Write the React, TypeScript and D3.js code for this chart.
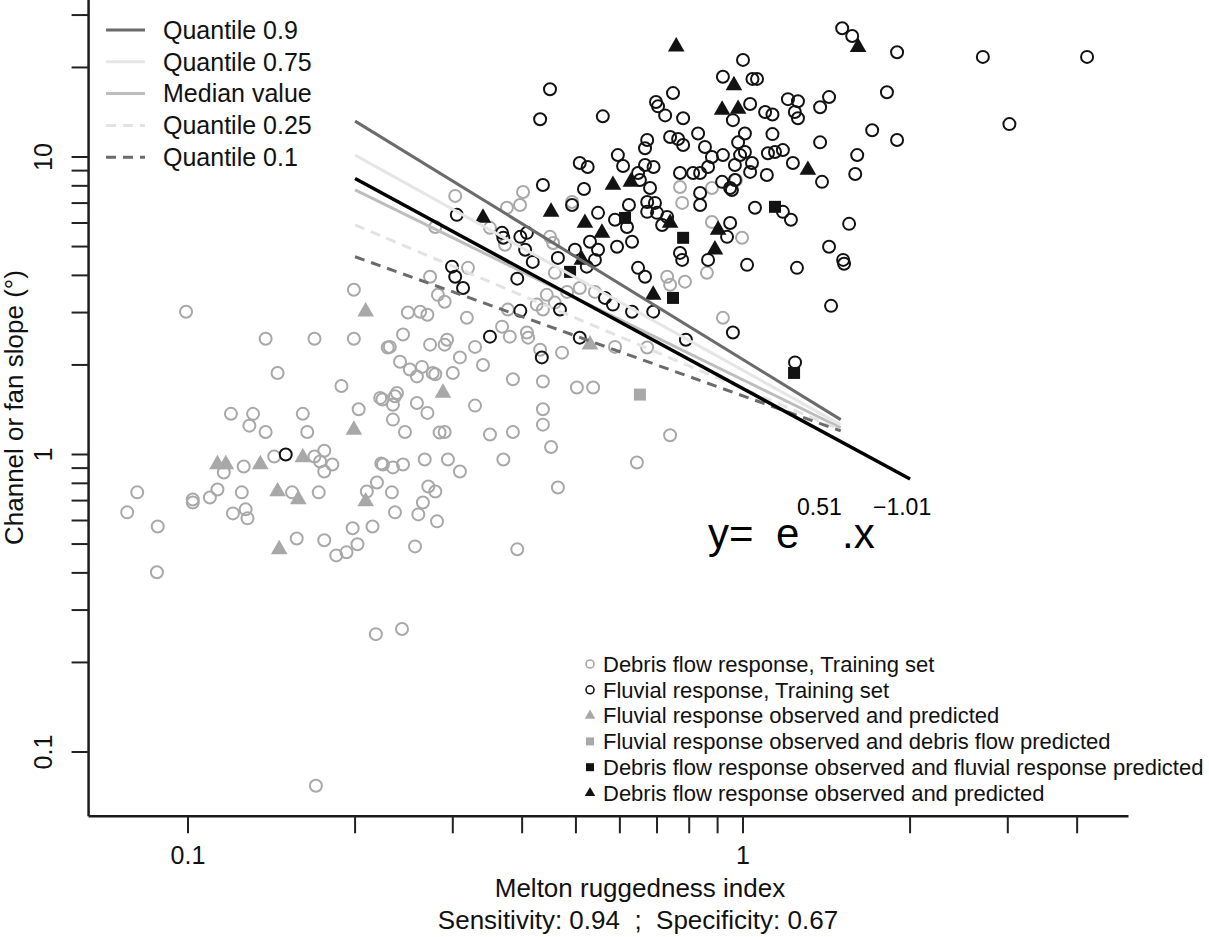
import React from "react";
import * as d3 from "d3";

const W = 1209;
const H = 937;

// Melton ruggedness index (x) and channel / fan slope in degrees (y)
const debrisTraining: [number, number][] = [
  [0.303, 7.4], [0.4015, 7.63], [0.3965, 6.9], [0.3755, 6.75], [0.492, 7.06], [0.77, 7.93], [0.777, 7.01],
  [0.879, 7.87], [0.971, 8.37], [0.879, 6.05], [0.996, 5.35], [0.861, 4.08], [0.73, 3.96], [0.739, 3.72],
  [0.786, 3.81], [0.92, 2.88], [0.279, 5.82], [0.35, 5.78], [0.3725, 5.07], [0.449, 5.39], [0.455, 5.14],
  [0.3195, 4.24], [0.273, 3.96], [0.282, 3.44], [0.29, 3.26], [0.458, 4.08], [0.508, 3.63], [0.541, 3.52],
  [0.482, 3.52], [0.443, 3.44], [0.458, 3.24], [0.425, 3.19], [0.436, 3.07], [0.377, 3.07], [0.249, 3.0],
  [0.262, 3.02], [0.27, 2.95], [0.318, 2.88], [0.244, 2.53], [0.368, 2.69], [0.38, 2.49], [0.408, 2.57],
  [0.41, 2.47], [0.293, 2.43], [0.29, 2.34], [0.273, 2.34], [0.231, 2.3], [0.329, 2.3], [0.431, 2.25],
  [0.472, 2.2], [0.588, 2.3], [0.672, 2.29], [0.241, 2.05], [0.251, 1.93], [0.264, 1.97], [0.276, 1.88],
  [0.309, 2.12], [0.34, 2.0], [0.3, 1.88], [0.2585, 1.83], [0.279, 1.86], [0.385, 1.79], [0.436, 1.76],
  [0.502, 1.68], [0.537, 1.68], [0.224, 1.53], [0.236, 1.57], [0.234, 1.47], [0.2585, 1.49], [0.27, 1.38],
  [0.234, 1.31], [0.246, 1.19], [0.329, 1.46], [0.284, 1.185], [0.29, 1.19], [0.35, 1.167], [0.385, 1.19],
  [0.436, 1.42], [0.436, 1.26], [0.451, 1.06], [0.739, 1.16], [0.644, 0.94], [0.2245, 0.926], [0.234, 0.905],
  [0.244, 0.926], [0.267, 0.962], [0.294, 0.962], [0.309, 0.877], [0.37, 0.962], [0.233, 0.746], [0.271, 0.781],
  [0.279, 0.751], [0.265, 0.69], [0.236, 0.639], [0.26, 0.629], [0.281, 0.596], [0.464, 0.775], [0.2565, 0.491],
  [0.392, 0.48], [0.0992, 3.02], [0.199, 3.58], [0.138, 2.45], [0.169, 2.45], [0.199, 2.45], [0.145, 1.88],
  [0.189, 1.7], [0.229, 2.29], [0.238, 1.61], [0.1195, 1.37], [0.131, 1.37], [0.129, 1.25], [0.138, 1.19],
  [0.161, 1.37], [0.164, 1.19], [0.203, 1.42], [0.222, 1.55], [0.176, 1.03], [0.143, 0.985], [0.169, 0.985],
  [0.173, 0.947], [0.182, 0.926], [0.176, 0.877], [0.126, 0.911], [0.116, 0.87], [0.081, 0.746], [0.0777, 0.639],
  [0.0882, 0.573], [0.102, 0.706], [0.102, 0.69], [0.1095, 0.717], [0.113, 0.763], [0.125, 0.746], [0.1205, 0.634],
  [0.127, 0.654], [0.128, 0.61], [0.154, 0.746], [0.172, 0.746], [0.223, 0.933], [0.21, 0.751], [0.219, 0.805],
  [0.198, 0.565], [0.215, 0.573], [0.157, 0.522], [0.176, 0.515], [0.185, 0.458], [0.193, 0.469], [0.202, 0.499],
  [0.0879, 0.402], [0.218, 0.249], [0.243, 0.259], [0.17, 0.077],
];

const fluvialTraining: [number, number][] = [
  [1.0, 21.2], [0.92, 18.6], [1.04, 18.3], [1.06, 18.3], [0.449, 16.9], [0.748, 16.4], [0.431, 13.4],
  [0.559, 13.7], [0.697, 15.3], [0.703, 14.8], [0.724, 13.8], [0.78, 13.5], [1.03, 15.07], [1.096, 14.16],
  [1.13, 13.9], [1.205, 15.65], [1.24, 14.16], [0.959, 13.3], [0.83, 12.0], [1.008, 12.0], [0.98, 11.2],
  [1.13, 11.94], [0.739, 11.67], [0.764, 11.49], [0.78, 10.97], [0.854, 10.8], [0.672, 11.4], [0.666, 10.7],
  [0.595, 10.15], [0.608, 9.33], [0.508, 9.55], [0.525, 9.25], [0.666, 9.4], [0.69, 9.25], [0.92, 10.15],
  [0.988, 10.15], [1.008, 10.4], [0.879, 10.0], [0.865, 9.25], [1.109, 10.3], [1.142, 10.4], [1.18, 10.55],
  [1.23, 9.55], [0.967, 9.4], [1.038, 9.55], [1.03, 8.91], [1.104, 8.7], [0.77, 8.84], [0.813, 8.84],
  [0.837, 8.84], [0.68, 7.87], [0.647, 8.84], [0.652, 8.37], [0.436, 8.05], [0.517, 7.81], [0.837, 7.57],
  [0.917, 8.25], [0.955, 7.75], [0.967, 8.37], [1.509, 27.1], [1.573, 25.5], [1.895, 22.5], [2.705, 21.7],
  [4.168, 21.7], [1.817, 16.5], [1.429, 15.9], [1.256, 15.4], [1.377, 14.7], [1.256, 13.5], [1.709, 12.3],
  [1.377, 11.2], [1.895, 11.4], [3.02, 12.9], [1.606, 10.15], [1.593, 8.77], [1.388, 8.25], [1.18, 6.54],
  [1.22, 6.15], [1.553, 5.96], [1.429, 4.99], [1.515, 4.51], [1.521, 4.375], [1.251, 4.24], [1.441, 3.16],
  [1.241, 2.04], [0.837, 6.9], [0.948, 7.87], [0.623, 6.9], [0.672, 7.06], [0.694, 7.01], [0.672, 6.54],
  [0.7, 6.49], [0.73, 6.29], [0.715, 5.91], [0.548, 6.49], [0.492, 6.9], [0.588, 6.15], [0.618, 5.82],
  [1.051, 6.75], [0.948, 6.0], [0.936, 5.39], [0.305, 6.39], [0.368, 5.56], [0.37, 5.35], [0.397, 5.39],
  [0.408, 5.56], [0.405, 4.88], [0.418, 4.44], [0.464, 4.58], [0.498, 4.88], [0.53, 5.19], [0.548, 4.88],
  [0.541, 4.51], [0.593, 4.99], [0.631, 5.19], [0.523, 4.28], [0.77, 4.76], [0.777, 4.51], [0.865, 4.51],
  [1.017, 4.34], [0.647, 4.24], [0.666, 3.96], [0.299, 4.28], [0.303, 3.96], [0.313, 3.63], [0.392, 3.9],
  [0.564, 3.36], [0.583, 3.19], [0.468, 3.07], [0.397, 3.04], [0.631, 3.02], [0.689, 3.02], [0.35, 2.49],
  [0.508, 2.47], [0.434, 2.12], [0.789, 2.43], [0.959, 2.57], [0.15, 1.0],
];

const fluvialObsPred: [number, number][] = [
  [0.113, 0.926], [0.117, 0.926], [0.135, 0.926], [0.161, 0.977], [0.145, 0.751], [0.158, 0.706],
  [0.146, 0.48], [0.199, 1.21], [0.209, 3.02], [0.209, 0.695], [0.288, 1.61], [0.53, 2.34],
];

const fluvialObsDebrisPred: [number, number][] = [[0.652, 1.59]];

const debrisObsFluvialPred: [number, number][] = [
  [0.613, 6.24], [0.78, 5.35], [0.488, 4.11], [0.748, 3.36], [1.142, 6.8], [1.236, 1.88],
];

const debrisObsPred: [number, number][] = [
  [0.758, 23.5], [1.612, 23.4], [0.963, 17.4], [0.917, 14.4], [0.98, 14.5], [1.309, 9.04], [0.583, 8.05],
  [0.628, 8.25], [0.34, 6.24], [0.451, 6.54], [0.519, 6.0], [0.557, 5.56], [0.5125, 4.51], [0.739, 6.0],
  [0.902, 5.69], [0.89, 4.88], [0.689, 3.44],
];

// quantile regression lines: slope at x0 and x1
const quantileNames = ["Quantile 0.9", "Quantile 0.75", "Median value", "Quantile 0.25", "Quantile 0.1"];
const quantileX = [0.2, 1.5];
const quantileY0 = [13.2, 10.15, 7.75, 5.91, 4.62];
const quantileY1 = [1.31, 1.26, 1.23, 1.21, 1.2];
const quantileColors = ["#6b6b6b", "#e6e6e6", "#bdbdbd", "#e3e3e3", "#6b6b6b"];
const quantileDash = [null, null, null, "10,7", "10,7"];

// fitted model y = e^a . x^b
const fitA = 0.51;
const fitB = -1.01;
const fitX = [0.2, 2.0];

const xLim = [0.0662, 4.95];
const yLim = [0.0608, 34];
const xMajor = [0.1, 1];
const xMinor = [0.2, 0.3, 0.4, 0.5, 0.6, 0.7, 0.8, 0.9, 2, 3, 4];
const yMajor = [0.1, 1, 10];
const yMinor = [0.2, 0.3, 0.4, 0.5, 0.6, 0.7, 0.8, 0.9, 2, 3, 4, 5, 6, 7, 8, 9, 20, 30];

const pointLegend = [
  "Debris flow response, Training set",
  "Fluvial response, Training set",
  "Fluvial response observed and predicted",
  "Fluvial response observed and debris flow predicted",
  "Debris flow response observed and fluvial response predicted",
  "Debris flow response observed and predicted",
];

const GREY = "#a8a8a8";
const BLACK = "#121212";
const FONT = "'Liberation Sans', Arial, Helvetica, sans-serif";

export default function App() {
  const x = d3.scaleLog().domain([0.1, 1]).range([188, 743]);
  const y = d3.scaleLog().domain([0.1, 10]).range([752, 157]);

  const tri = d3.symbol(d3.symbolTriangle, 120)() as string;
  const sq = d3.symbol(d3.symbolSquare, 144)() as string;
  const triSmall = d3.symbol(d3.symbolTriangle, 48)() as string;
  const sqSmall = d3.symbol(d3.symbolSquare, 64)() as string;

  const left = x(xLim[0]);
  const right = x(xLim[1]);
  const bottom = y(yLim[0]);
  const top = y(yLim[1]);

  const fitY = (v: number) => Math.exp(fitA) * Math.pow(v, fitB);

  const legX = 590;
  const legY0 = 664;
  const legStep = 25.8;

  return (
    <svg width={W} height={H} style={{ position: "absolute", left: 0, top: 0, background: "#fff" }} fontFamily={FONT}>
      {/* points */}
      <g fill="none" stroke={GREY} strokeWidth={2}>
        {debrisTraining.map((d, i) => (
          <circle key={i} cx={x(d[0])} cy={y(d[1])} r={6} />
        ))}
      </g>
      <g fill="none" stroke={BLACK} strokeWidth={2}>
        {fluvialTraining.map((d, i) => (
          <circle key={i} cx={x(d[0])} cy={y(d[1])} r={6} />
        ))}
      </g>
      {fluvialObsPred.map((d, i) => (
        <path key={"fo" + i} d={tri} transform={`translate(${x(d[0])},${y(d[1])})`} fill={GREY} />
      ))}
      {fluvialObsDebrisPred.map((d, i) => (
        <path key={"fd" + i} d={sq} transform={`translate(${x(d[0])},${y(d[1])})`} fill={GREY} />
      ))}
      {debrisObsFluvialPred.map((d, i) => (
        <path key={"df" + i} d={sq} transform={`translate(${x(d[0])},${y(d[1])})`} fill={BLACK} />
      ))}
      {debrisObsPred.map((d, i) => (
        <path key={"dd" + i} d={tri} transform={`translate(${x(d[0])},${y(d[1])})`} fill={BLACK} />
      ))}

      {/* quantile lines */}
      {quantileNames.map((n, i) => (
        <line
          key={n}
          x1={x(quantileX[0])}
          y1={y(quantileY0[i])}
          x2={x(quantileX[1])}
          y2={y(quantileY1[i])}
          stroke={quantileColors[i]}
          strokeWidth={3}
          strokeDasharray={quantileDash[i] ?? undefined}
        />
      ))}
      <line x1={x(fitX[0])} y1={y(fitY(fitX[0]))} x2={x(fitX[1])} y2={y(fitY(fitX[1]))} stroke="#000" strokeWidth={3.5} />

      {/* axes */}
      <g stroke="#1a1a1a" strokeWidth={2.5}>
        <line x1={left} y1={bottom} x2={right} y2={bottom} />
        <line x1={left} y1={bottom} x2={left} y2={top} />
      </g>
      <g stroke="#222" strokeWidth={2}>
        {[...xMajor, ...xMinor].map((v) => (
          <line key={"xt" + v} x1={x(v)} x2={x(v)} y1={bottom} y2={bottom + 17} />
        ))}
        {[...yMajor, ...yMinor].map((v) => (
          <line key={"yt" + v} x1={left} x2={left - 17} y1={y(v)} y2={y(v)} />
        ))}
      </g>
      <g fontSize={25} fill="#111" textAnchor="middle">
        {xMajor.map((v) => (
          <text key={"xl" + v} x={x(v)} y={864}>
            {d3.format("~g")(v)}
          </text>
        ))}
        {yMajor.map((v) => (
          <text key={"yl" + v} transform={`translate(52,${y(v)}) rotate(-90)`}>
            {d3.format("~g")(v)}
          </text>
        ))}
      </g>

      {/* axis titles */}
      <g fontSize={26} fill="#111" textAnchor="middle">
        <text x={640} y={897}>Melton ruggedness index</text>
        <text x={638} y={929} style={{ whiteSpace: "pre" }}>
          {"Sensitivity: 0.94  ;  Specificity: 0.67"}
        </text>
        <text transform={`translate(23,${(top + bottom) / 2}) rotate(-90)`}>Channel or fan slope (°)</text>
      </g>

      {/* line legend */}
      <g fontSize={25} fill="#111">
        {quantileNames.map((n, i) => (
          <g key={n} transform={`translate(0,${30 + i * 31.8})`}>
            <line
              x1={106}
              x2={145}
              y1={0}
              y2={0}
              stroke={quantileColors[i]}
              strokeWidth={3}
              strokeDasharray={quantileDash[i] ?? undefined}
            />
            <text x={163} y={0} dy="0.35em">
              {n}
            </text>
          </g>
        ))}
      </g>

      {/* equation */}
      <g fill="#000">
        <text x={708} y={548} fontSize={42}>y=</text>
        <text x={776} y={548} fontSize={42}>e</text>
        <text x={797} y={515} fontSize={23}>{fitA}</text>
        <text x={842} y={548} fontSize={42}>.x</text>
        <text x={873} y={515} fontSize={23}>{"\u2212" + Math.abs(fitB)}</text>
      </g>

      {/* point legend */}
      <g fontSize={22} fill="#111">
        {pointLegend.map((n, i) => {
          const cy = legY0 + i * legStep;
          let sym;
          if (i === 0) sym = <circle cx={legX} cy={cy} r={4} fill="none" stroke={GREY} strokeWidth={1.6} />;
          else if (i === 1) sym = <circle cx={legX} cy={cy} r={4} fill="none" stroke={BLACK} strokeWidth={1.6} />;
          else if (i === 2) sym = <path d={triSmall} transform={`translate(${legX},${cy})`} fill={GREY} />;
          else if (i === 3) sym = <path d={sqSmall} transform={`translate(${legX},${cy})`} fill={GREY} />;
          else if (i === 4) sym = <path d={sqSmall} transform={`translate(${legX},${cy})`} fill={BLACK} />;
          else sym = <path d={triSmall} transform={`translate(${legX},${cy})`} fill={BLACK} />;
          return (
            <g key={n}>
              {sym}
              <text x={603} y={cy} dy="0.35em">
                {n}
              </text>
            </g>
          );
        })}
      </g>
    </svg>
  );
}
